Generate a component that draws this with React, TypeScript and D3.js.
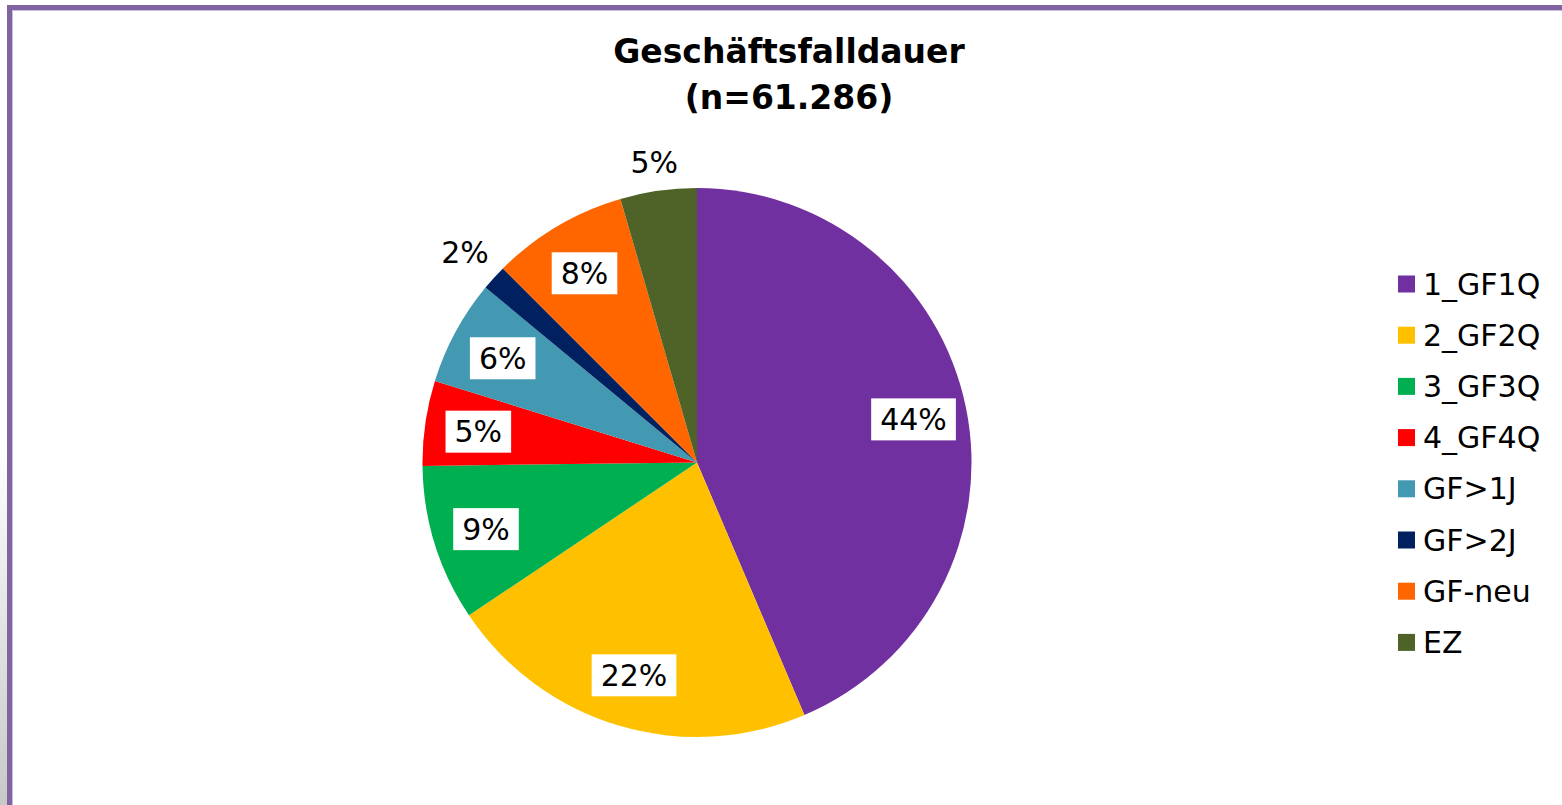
import React, { useEffect, useRef } from "react";
import * as d3 from "d3";

const categories = ["1_GF1Q", "2_GF2Q", "3_GF3Q", "4_GF4Q", "GF>1J", "GF>2J", "GF-neu", "EZ"];
const shares = [43.6, 22.0, 9.2, 5.0, 6.2, 1.5, 8.0, 4.5];
const colors = ["#7030A0", "#FFC000", "#00B050", "#FF0000", "#4299B1", "#002060", "#FF6600", "#4F6228"];
const titleLines = ["Geschäftsfalldauer", "(n=61.286)"];

const W = 1562;
const H = 805;
const FONT = "Verdana, 'DejaVu Sans', sans-serif";

export default function App() {
  const ref = useRef<SVGSVGElement>(null);

  useEffect(() => {
    const svg = d3.select(ref.current);
    svg.selectAll("*").remove();

    // page backdrop left of the frame
    const defs = svg.append("defs");
    const grad = defs
      .append("linearGradient")
      .attr("id", "side")
      .attr("x1", 0)
      .attr("y1", 0)
      .attr("x2", 0)
      .attr("y2", 1);
    grad.append("stop").attr("offset", "0.55").attr("stop-color", "#ffffff");
    grad.append("stop").attr("offset", "1").attr("stop-color", "#c8c8c8");
    svg.append("rect").attr("x", 0).attr("y", 0).attr("width", 7).attr("height", H).attr("fill", "url(#side)");

    // chart frame
    svg
      .append("rect")
      .attr("x", 9.5)
      .attr("y", 7.5)
      .attr("width", W + 20)
      .attr("height", H + 20)
      .attr("fill", "#fff")
      .attr("stroke", "#8064A2")
      .attr("stroke-width", 5);
    svg
      .append("rect")
      .attr("x", 12.5)
      .attr("y", 10.5)
      .attr("width", W + 20)
      .attr("height", H + 20)
      .attr("fill", "none")
      .attr("stroke", "#c9bedc")
      .attr("stroke-width", 1);

    // title
    const title = svg
      .append("text")
      .attr("x", 789)
      .attr("text-anchor", "middle")
      .attr("font-family", FONT)
      .attr("font-weight", "bold")
      .attr("font-size", 33)
      .attr("fill", "#000");
    titleLines.forEach((t, i) => {
      title
        .append("tspan")
        .attr("x", 789)
        .attr("y", 63 + i * 46)
        .text(t);
    });

    // pie
    const cx = 697;
    const cy = 462.5;
    const R = 274.5;
    const total = d3.sum(shares);
    const data = categories.map((c, i) => ({ name: c, value: shares[i], color: colors[i] }));
    const pie = d3
      .pie<any>()
      .sort(null)
      .value((d) => d.value);
    const arcs = pie(data);
    const arc = d3.arc<any>().innerRadius(0).outerRadius(R);

    const g = svg.append("g").attr("transform", `translate(${cx},${cy})`);
    g.selectAll("path.slice")
      .data(arcs)
      .enter()
      .append("path")
      .attr("class", "slice")
      .attr("d", arc)
      .attr("fill", (d) => d.data.color);

    // data labels
    const labelArc = d3.arc<any>().innerRadius(R * 0.805).outerRadius(R * 0.805);
    const padX = 9;
    const padY = 7.5;
    arcs.forEach((a) => {
      const pct = Math.round((a.data.value / total) * 100 + 1e-9) + "%";
      const inside = a.data.value >= 5;
      const lg = g.append("g");
      const txt = lg
        .append("text")
        .attr("text-anchor", "middle")
        .attr("dominant-baseline", "central")
        .attr("font-family", FONT)
        .attr("font-size", 30)
        .attr("fill", "#000")
        .text(pct);
      const bb = (txt.node() as SVGTextElement).getBBox();
      const hw = bb.width / 2 + padX;
      const hh = bb.height / 2 + padY - 4;
      let px: number;
      let py: number;
      if (inside) {
        [px, py] = labelArc.centroid(a);
        lg.insert("rect", "text")
          .attr("x", -hw)
          .attr("y", -hh)
          .attr("width", hw * 2)
          .attr("height", hh * 2)
          .attr("fill", "#fff");
      } else {
        const mid = (a.startAngle + a.endAngle) / 2;
        const dx = Math.sin(mid);
        const dy = -Math.cos(mid);
        const ext = Math.min(hw / Math.max(Math.abs(dx), 1e-6), hh / Math.max(Math.abs(dy), 1e-6));
        const rr = R + 8 + ext;
        px = dx * rr;
        py = dy * rr;
      }
      lg.attr("transform", `translate(${px},${py + 1})`);
    });

    // legend
    const legend = svg.append("g").attr("transform", "translate(1398,284)");
    const rows = legend
      .selectAll("g")
      .data(data)
      .enter()
      .append("g")
      .attr("transform", (_d, i) => `translate(0,${i * 51.2})`);
    rows
      .append("rect")
      .attr("x", 0)
      .attr("y", -8.5)
      .attr("width", 17)
      .attr("height", 17)
      .attr("fill", (d) => d.color);
    rows
      .append("text")
      .attr("x", 25)
      .attr("y", 0)
      .attr("dominant-baseline", "central")
      .attr("font-family", FONT)
      .attr("font-size", 30)
      .attr("fill", "#000")
      .text((d) => d.name);
  }, []);

  return (
    <svg
      ref={ref}
      width={W}
      height={H}
      style={{ position: "absolute", left: 0, top: 0, background: "#fff" }}
    />
  );
}
